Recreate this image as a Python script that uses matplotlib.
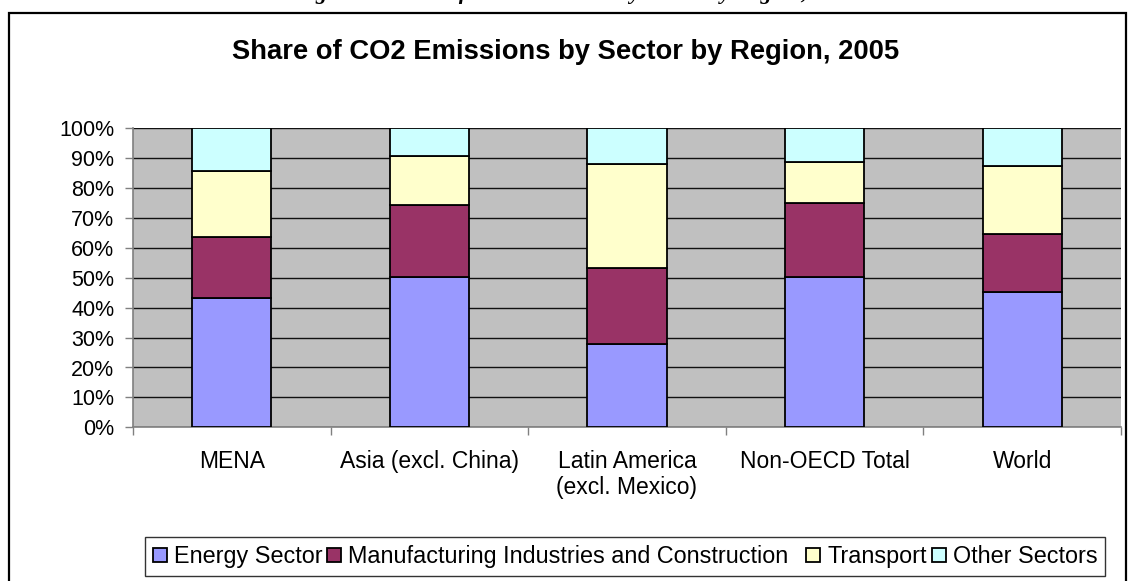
import numpy as np
import matplotlib
matplotlib.use("Agg")
import matplotlib.pyplot as plt
from matplotlib.patches import Rectangle

plt.rcParams['font.family'] = ['Liberation Sans', 'DejaVu Sans']

# data (% of total)
regions = ["MENA", "Asia (excl. China)", "Latin America\n(excl. Mexico)", "Non-OECD Total", "World"]
energy = [43.1, 50.2, 27.8, 50.2, 45.1]
manufacturing = [20.6, 24.1, 25.6, 24.9, 19.4]
transport = [22.0, 16.4, 34.8, 13.6, 23.0]
other = [14.3, 9.3, 11.8, 11.3, 12.5]
sectors = ["Energy Sector", "Manufacturing Industries and Construction  ", "Transport", "Other Sectors"]
colors = ["#9999FF", "#993366", "#FFFFCC", "#CCFFFF"]
yticks = [0, 10, 20, 30, 40, 50, 60, 70, 80, 90, 100]

fig = plt.figure(figsize=(11.28, 5.81), dpi=100)
ax = fig.add_axes([133/1128, 1-427.3/581, 988/1128, 299/581])
ax.set_facecolor("#C0C0C0")

x = np.arange(len(regions))
bottom = np.zeros(len(regions))
handles = []
for vals, lab, col in zip([energy, manufacturing, transport, other], sectors, colors):
    b = ax.bar(x, vals, 0.4, bottom=bottom, color=col, edgecolor="black", linewidth=1.3, label=lab, zorder=3)
    handles.append(b)
    bottom += np.array(vals)

ax.set_xlim(-0.5, len(regions)-0.5)
ax.set_ylim(0, 100)
ax.set_yticks(yticks)
ax.set_yticklabels([f"{v}%" for v in yticks], fontsize=15.5)
ax.yaxis.grid(True, color="#111111", linewidth=1.0, zorder=1)
ax.set_axisbelow(True)

ax.set_xticks(np.arange(len(regions)+1)-0.5)
ax.set_xticklabels([])
ax.set_xticks(x, minor=True)
ax.set_xticklabels(regions, minor=True, fontsize=16.5)
ax.tick_params(axis="x", which="minor", length=0, pad=16)
ax.tick_params(axis="x", which="major", length=5.5, color="#808080", width=1)
ax.tick_params(axis="y", length=5.5, color="#808080", width=1, pad=8)

for s in ["top", "right"]:
    ax.spines[s].set_visible(False)
for s in ["left", "bottom"]:
    ax.spines[s].set_color("#808080")
    ax.spines[s].set_linewidth(1.2)

fig.text(566/1128, 1-52/581, "Share of CO2 Emissions by Sector by Region, 2005",
         ha="center", va="center", fontsize=19.7, fontweight="bold")

# cropped caption above the chart frame (only its bottom edge shows, as in the source)
fig.text(576/1128, 1.0 + 1.5/581, "Figure 2: Share of CO2 Emissions by Sector by Region, 2005",
         ha="center", va="baseline", fontsize=16, fontweight="bold", fontstyle="italic",
         family=["Liberation Serif", "DejaVu Serif"])

# chart frame
fig.patches.append(Rectangle((9/1128, -0.05), 1117/1128, 1.05-13.3/581, transform=fig.transFigure,
                             fill=False, edgecolor="black", linewidth=1.6))

leg = fig.legend(handles=handles, loc="upper left", bbox_to_anchor=(145/1128, 1-537/581),
                 ncol=4, fontsize=16.8, frameon=True, fancybox=False, edgecolor="black",
                 handlelength=0.6, handleheight=0.6, handletextpad=0.3, columnspacing=0.2,
                 borderpad=0.35, borderaxespad=0)
leg.get_frame().set_linewidth(1.0)
for h in leg.legend_handles:
    h.set_linewidth(1.3)

fig.savefig("out.png", dpi=100)
